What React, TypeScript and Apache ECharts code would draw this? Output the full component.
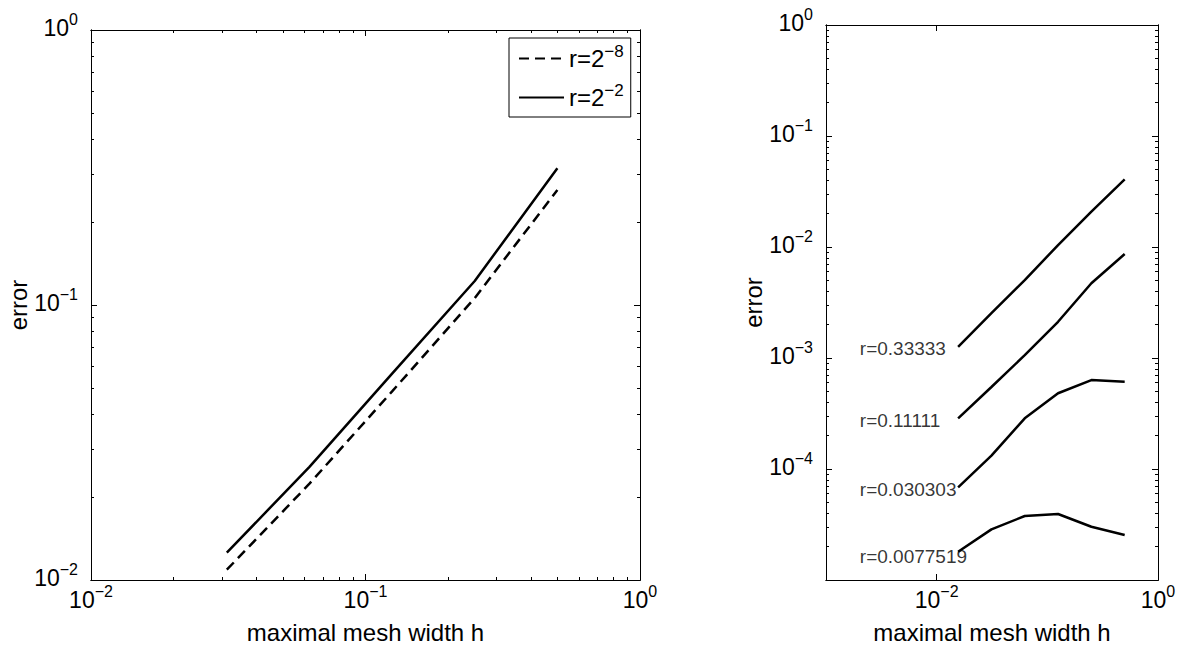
import React, { useEffect, useRef } from "react";
import * as echarts from "echarts";

// ---------- data ----------
const leftH = [1 / 32, 1 / 16, 1 / 8, 1 / 4, 1 / 2];
const leftErrDashed = [0.0109, 0.0224, 0.0485, 0.106, 0.262];
const leftErrSolid = [0.01257, 0.0258, 0.0563, 0.1223, 0.3142];
const leftNames = ["r=2^-8", "r=2^-2"];

const rightH = [1 / 64, 1 / 32, 1 / 16, 1 / 8, 1 / 4, 1 / 2];
const rightErr1 = [1.26e-3, 2.54e-3, 5.04e-3, 1.04e-2, 2.08e-2, 4.07e-2];
const rightErr2 = [2.86e-4, 5.48e-4, 1.06e-3, 2.12e-3, 4.71e-3, 8.65e-3];
const rightErr3 = [6.84e-5, 1.32e-4, 2.86e-4, 4.81e-4, 6.33e-4, 6.12e-4];
const rightErr4 = [1.8e-5, 2.86e-5, 3.77e-5, 3.93e-5, 3.02e-5, 2.54e-5];
const rightNames = ["r=0.33333", "r=0.11111", "r=0.030303", "r=0.0077519"];
const rightLabelX = 0.002;
const rightLabelY = [1.23e-3, 2.76e-4, 6.6e-5, 1.64e-5];

// ---------- ticks ----------
const leftXLabels = [0.01, 0.1, 1];
const leftYLabels = [0.01, 0.1, 1];
const rightXLabels = [0.01, 1];
const rightYLabels = [1e-4, 1e-3, 1e-2, 1e-1, 1];
const leftXMajor = [0.01, 0.1, 1];
const leftYMajor = [0.01, 0.1, 1];
const rightXMajor = [0.01, 1];
const rightYMajor = [1e-5, 1e-4, 1e-3, 1e-2, 1e-1, 1];
const minorDigits = [2, 3, 4, 5, 6, 7, 8, 9];
const leftMinorDecades = [0.01, 0.1];
const rightYMinorDecades = [1e-5, 1e-4, 1e-3, 1e-2, 1e-1];

const minorsOf = (decades: number[]) =>
  decades.flatMap((d) => minorDigits.map((m) => +(m * d).toPrecision(6)));

const FONT = "'Liberation Sans', Arial, Helvetica, sans-serif";

const expText = (e: number) => (e < 0 ? "\u2212" + -e : String(e));
const powLabel = (v: number) => {
  const e = Math.round(Math.log10(v));
  return `{b|10}{s|${expText(e)}}`;
};
const tickRich = {
  b: { fontSize: 23, lineHeight: 23, fontFamily: FONT, color: "#000", verticalAlign: "bottom" },
  s: { fontSize: 16, lineHeight: 16, fontFamily: FONT, color: "#000", padding: [0, 0, 16, 0] },
};

const lineStyle = { color: "#000", width: 1 };

function makeAxes(
  dim: "x" | "y",
  gridIndex: number,
  min: number,
  max: number,
  majors: number[],
  minors: number[],
  labels: number[],
  name: string,
  nameGap: number
) {
  const base: any = {
    type: "log",
    logBase: 10,
    gridIndex,
    min,
    max,
    splitLine: { show: false },
    axisLine: { show: true, lineStyle },
  };
  const sides = dim === "x" ? ["bottom", "top"] : ["left", "right"];
  const res: any[] = [];
  sides.forEach((pos, si) => {
    res.push({
      ...base,
      position: pos,
      axisTick: { show: true, inside: true, length: 6, customValues: majors, lineStyle },
      axisLabel:
        si === 0
          ? {
              show: true,
              customValues: labels,
              formatter: powLabel,
              fontSize: 23,
              margin: dim === "x" ? 8 : 13,
              rich: tickRich,
              padding: dim === "y" ? [0, 0, 5, 0] : 0,
            }
          : { show: false },
      name: si === 0 ? name : "",
      nameLocation: "middle",
      nameGap,
      nameTextStyle: { fontSize: 24, fontFamily: FONT, color: "#000" },
    });
    res.push({
      ...base,
      position: pos,
      axisTick: { show: minors.length > 0, inside: true, length: 3, customValues: minors, lineStyle },
      axisLabel: { show: false },
    });
  });
  return res;
}

export default function App() {
  const ref = useRef<HTMLDivElement>(null);
  useEffect(() => {
    if (!ref.current) return;
    const chart = echarts.init(ref.current, null, { renderer: "svg" });

    const xAxis = [
      ...makeAxes("x", 0, 0.01, 1, leftXMajor, minorsOf(leftMinorDecades), leftXLabels, "maximal mesh width h", 40),
      ...makeAxes("x", 1, 0.001, 1, rightXMajor, [], rightXLabels, "maximal mesh width h", 40),
    ];
    const yAxis = [
      ...makeAxes("y", 0, 0.01, 1, leftYMajor, minorsOf(leftMinorDecades), leftYLabels, "error", 59),
      ...makeAxes("y", 1, 1e-5, 1, rightYMajor, minorsOf(rightYMinorDecades), rightYLabels, "error", 59),
    ];

    const rightSets = [rightErr1, rightErr2, rightErr3, rightErr4];

    const series: any[] = [
      {
        name: leftNames[0],
        type: "line",
        xAxisIndex: 0,
        yAxisIndex: 0,
        symbol: "none",
        data: leftH.map((h, i) => [h, leftErrDashed[i]]),
        lineStyle: { color: "#000", width: 2.5, type: [10, 6] },
        itemStyle: { color: "#000" },
      },
      {
        name: leftNames[1],
        type: "line",
        xAxisIndex: 0,
        yAxisIndex: 0,
        symbol: "none",
        data: leftH.map((h, i) => [h, leftErrSolid[i]]),
        lineStyle: { color: "#000", width: 2.5 },
        itemStyle: { color: "#000" },
      },
      ...rightSets.map((vals, k) => ({
        name: rightNames[k],
        type: "line",
        xAxisIndex: 4,
        yAxisIndex: 4,
        symbol: "none",
        data: rightH.map((h, i) => [h, vals[i]]),
        lineStyle: { color: "#000", width: 2.5 },
        itemStyle: { color: "#000" },
      })),
      {
        type: "scatter",
        xAxisIndex: 4,
        yAxisIndex: 4,
        symbolSize: 1,
        itemStyle: { color: "rgba(0,0,0,0)" },
        data: rightNames.map((n, k) => ({ name: n, value: [rightLabelX, rightLabelY[k]] })),
        label: {
          show: true,
          position: "right",
          distance: 0,
          formatter: (p: any) => p.name,
          fontSize: 19,
          fontFamily: FONT,
          color: "#000",
        },
      },
    ];

    chart.setOption({
      animation: false,
      backgroundColor: "#fff",
      textStyle: { fontFamily: FONT, color: "#000" },
      grid: [
        { left: 91, top: 30, width: 549, height: 550 },
        { left: 826, top: 25, width: 332, height: 555 },
      ],
      legend: {
        data: leftNames,
        left: 509,
        top: 38,
        orient: "vertical",
        itemWidth: 45,
        itemHeight: 14,
        itemGap: 8,
        padding: [5, 7, 4, 9],
        borderColor: "#000",
        borderWidth: 1,
        backgroundColor: "#fff",
        selectedMode: false,
        itemStyle: { color: "rgba(0,0,0,0)", borderColor: "rgba(0,0,0,0)", borderWidth: 0 },
        formatter: (name: string) => {
          const [b, e] = name.split("^");
          return `{b|${b}}{s|${e.replace("-", "\u2212")}}`;
        },
        textStyle: {
          fontSize: 24,
          rich: {
            b: { fontSize: 24, lineHeight: 24, fontFamily: FONT, color: "#000", verticalAlign: "bottom" },
            s: { fontSize: 17, lineHeight: 17, fontFamily: FONT, color: "#000", padding: [0, 0, 14, 0] },
          },
        },
      },
      xAxis,
      yAxis,
      series,
    });
    return () => chart.dispose();
  }, []);
  return (
    <div
      ref={ref}
      style={{ position: "fixed", left: 0, top: 0, width: 1186, height: 650, background: "#fff" }}
    />
  );
}
